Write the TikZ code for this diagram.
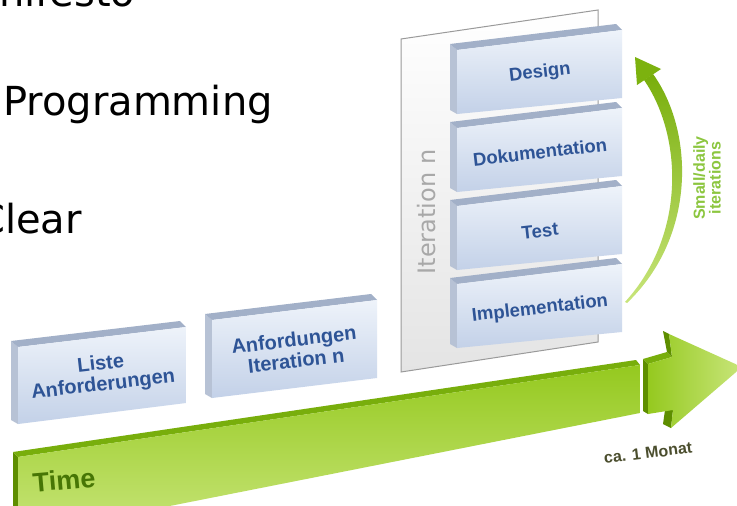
\documentclass[tikz,border=0pt]{standalone}
\usepackage{fontspec}
\setmainfont{DejaVu Sans}
\newfontfamily\boxfont{Liberation Sans}
\definecolor{frontTop}{HTML}{EEF3FA}
\definecolor{frontBot}{HTML}{C3D1E8}
\definecolor{slabTopC}{HTML}{A2B0C8}
\definecolor{sideC}{HTML}{B7C2D5}
\definecolor{boxText}{HTML}{2E5496}
\definecolor{panelBorder}{HTML}{9A9A9A}
\definecolor{panelBot}{HTML}{E4E4E4}
\definecolor{gFrontTop}{HTML}{95C91F}
\definecolor{gFrontBot}{HTML}{C8E57A}
\definecolor{gTop}{HTML}{78AE0C}
\definecolor{gSide}{HTML}{5E8E00}
\definecolor{timeText}{HTML}{477605}
\definecolor{smallText}{HTML}{8CC63F}
\definecolor{monatText}{HTML}{4B4E2E}
\definecolor{iterGray}{HTML}{A8A8A8}
\newcommand{\slabbox}[6]{%
  \fill[sideC] (#1-7,#3-6) -- (#1,#3) -- (#1,#6) -- (#1-7,#6-4) -- cycle;
  \fill[slabTopC] (#1-7,#3-6) -- (#2-6,#4-6) -- (#2,#4) -- (#1,#3) -- cycle;
  \shade[top color=frontTop,bottom color=frontBot] (#1,#3) -- (#2,#4) -- (#2,#5) -- (#1,#6) -- cycle;
}
\begin{document}
\begin{tikzpicture}[x=1pt,y=-1pt,
  slide/.style={inner sep=0pt,font=\fontsize{40}{48}\selectfont},
  boxlabel/.style={inner sep=0pt,text=boxText,align=center,rotate=6.5,
    font=\boxfont\bfseries\fontsize{18.5}{20}\selectfont},
  boxlabelbig/.style={boxlabel,font=\boxfont\bfseries\fontsize{20}{21}\selectfont}]
\useasboundingbox (0,0) rectangle (737,506);
\clip (0,0) rectangle (737,506);
\fill[white] (0,0) rectangle (737,506);

% slide text
\node[slide,anchor=base west] (t1) at (-1,6) {nifesto};
\node[slide,anchor=base west] (t2) at (3,115) {Programming};
\node[slide,anchor=base east] (t3) at (82,233) {Clear};

% iteration panel
\shade[top color=white,bottom color=panelBot] (401,39) -- (598,10) -- (598,342) -- (401,372) -- cycle;
\draw[panelBorder,line width=1pt] (401,39) -- (598,10) -- (598,342) -- (401,372) -- cycle;
\node[inner sep=0pt,rotate=90,text=iterGray,font=\fontsize{24}{28}\selectfont] (itn) at (427,212) {Iteration n};

% stacked slabs
\slabbox{457}{622}{50}{30}{98}{114}
\slabbox{457}{622}{128}{108}{176}{192}
\slabbox{457}{622}{206}{186}{254}{270}
\slabbox{457}{622}{284}{264}{332}{348}
\node[boxlabel] (design) at (540,73) {Design};
\node[boxlabel] (doku) at (540,152) {Dokumentation};
\node[boxlabel] (test) at (540,231) {Test};
\node[boxlabel] (impl) at (540,309) {Implementation};

% bottom slabs
\slabbox{18}{186}{347}{327}{403}{424}
\slabbox{212}{377}{320}{300}{378}{398}
\node[boxlabelbig] (liste) at (102,375) {Liste\\Anforderungen};
\node[boxlabelbig] (anf) at (295,350) {Anfordungen\\Iteration n};

% time arrow shaft
\fill[gSide] (13,452) -- (18,457) -- (18,540) -- (13,536) -- cycle;
\fill[gTop] (13,452) -- (636,360) -- (640,365) -- (18,457) -- cycle;
\shade[top color=gFrontTop,bottom color=gFrontBot] (18,457) -- (640,365) -- (640,413) -- (18,536) -- cycle;
% time arrow head
\fill[gSide] (643,359) -- (648,364) -- (648,414) -- (643,411) -- cycle;
\fill[gTop] (643,359) -- (667,352) -- (672,357) -- (648,364) -- cycle;
\fill[gSide] (663,331) -- (669,334) -- (672,357) -- (667,352) -- cycle;
\fill[gSide] (665,410) -- (673,410) -- (671,428) -- (663,424) -- cycle;
\shade[left color=gFrontTop,right color=gFrontBot] (648,364) -- (672,357) -- (669,334) -- (742,367) -- (671,428) -- (673,410) -- (648,414) -- cycle;
\node[inner sep=0pt,text=timeText,rotate=5,font=\boxfont\bfseries\fontsize{27}{30}\selectfont] (time) at (64,480) {Time};
\node[inner sep=0pt,text=monatText,rotate=7,font=\boxfont\bfseries\fontsize{16}{18}\selectfont] (monat) at (648,453) {ca. 1 Monat};

% small daily iterations arrow
\shade[top color=gTop,bottom color=gFrontBot]
  (627,303) .. controls (697,236) and (694,131) .. (653,74)
  -- (644,80) .. controls (682,135) and (687,234) .. (625,302) -- cycle;
\fill[gTop!85!gFrontTop] (635,57) -- (661,69) -- (637,85) -- cycle;
\node[inner sep=0pt,rotate=90,text=smallText,align=center,font=\boxfont\bfseries\fontsize{16}{14}\selectfont] (small) at (707,178) {Small/daily\\iterations};
\end{tikzpicture}
\end{document}
